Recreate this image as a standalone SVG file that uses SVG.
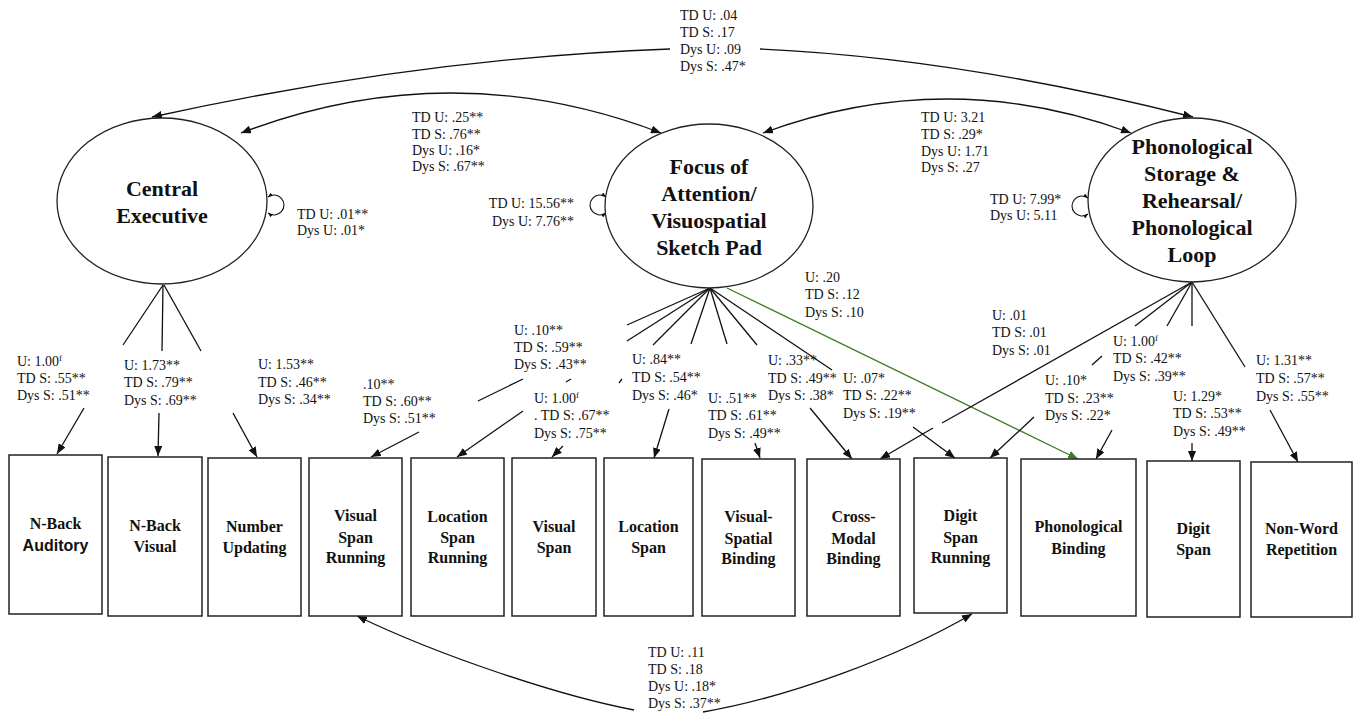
<svg xmlns="http://www.w3.org/2000/svg" width="1360" height="713" viewBox="0 0 1360 713">
  <style>
    .lbl { font-family: "Liberation Serif", "Times New Roman", serif; font-size: 14px; fill: #111; }
    .box { fill: #fff; stroke: #222; stroke-width: 1.5; }
    .btxt { font-family: "Liberation Serif", "Times New Roman", serif; font-size: 16px; font-weight: bold; fill: #111; text-anchor: middle; }
    .bsans { font-family: "Liberation Sans", Arial, sans-serif; font-size: 16px; font-weight: bold; }
    .lat { fill: #fff; stroke: #222; stroke-width: 1.3; }
    .ltxt { font-family: "Liberation Serif", "Times New Roman", serif; font-size: 22px; font-weight: bold; fill: #111; text-anchor: middle; }
    .ln { fill: none; stroke: #111; stroke-width: 1.3; }
    .arr { fill: none; stroke: #111; stroke-width: 1.3; marker-end: url(#ah); }
    .cov { fill: none; stroke: #111; stroke-width: 1.3; marker-start: url(#ah); marker-end: url(#ah); }
    .loop { fill: none; stroke: #111; stroke-width: 1.1; marker-start: url(#sm); marker-end: url(#sm); }
    .sup { font-size: 9px; }
  </style>
  <defs>
    <marker id="ah" viewBox="0 0 10 8" refX="10" refY="4" markerWidth="10" markerHeight="8" markerUnits="userSpaceOnUse" orient="auto-start-reverse">
      <path d="M0,0 L10,4 L0,8 z" fill="#111"/>
    </marker>
    <marker id="ahg" viewBox="0 0 10 8" refX="10" refY="4" markerWidth="10" markerHeight="8" markerUnits="userSpaceOnUse" orient="auto">
      <path d="M0,0 L10,4 L0,8 z" fill="#3f7a24"/>
    </marker>
    <marker id="sm" viewBox="0 0 6 5" refX="6" refY="2.5" markerWidth="5" markerHeight="4" markerUnits="userSpaceOnUse" orient="auto-start-reverse">
      <path d="M0,0 L6,2.5 L0,5 z" fill="#111"/>
    </marker>
  </defs>

  <!-- connectors -->
  <g id="connectors">
    <!-- covariances between latent factors -->
    <path class="ln" d="M670,49 Q420,58 152,117" marker-end="url(#ah)"/>
    <path class="ln" d="M760,49 Q960,58 1193,117" marker-end="url(#ah)"/>
    <path class="cov" d="M241,133 Q451,53 661,133"/>
    <path class="cov" d="M763,133 Q947,65 1131,133"/>

    <!-- residual variances -->
    <path class="loop" d="M268,197 A10,10 0 1,1 268,213"/>
    <path class="loop" d="M606,197 A10,10 0 1,0 606,213"/>
    <path class="loop" d="M1088,198 A10,10 0 1,0 1088,214"/>

    <!-- Central Executive loadings -->
    <path class="ln" d="M163,285 L123,345"/>
    <path class="ln" d="M163,285 L162,351"/>
    <path class="ln" d="M164,285 L201,351"/>
    <path class="arr" d="M84,408 L57,454"/>
    <path class="arr" d="M159,413 L158,456"/>
    <path class="arr" d="M233,413 L257,457"/>

    <!-- Focus of Attention loadings -->
    <path class="ln" d="M710,288 L627,325"/>
    <path class="ln" d="M523,379 L478,401"/>
    <path class="arr" d="M419,432 L371,457"/>

    <path class="ln" d="M710,288 L627,341"/>
    <path class="ln" d="M571,379 L566,382"/>
    <path class="arr" d="M523,411 L457,457"/>

    <path class="ln" d="M710,288 L653,345"/>
    <path class="ln" d="M622,379 L619,383"/>
    <path class="arr" d="M563,446 L552,457"/>

    <path class="ln" d="M710,288 L691,344"/>
    <path class="arr" d="M669,409 L654,458"/>

    <path class="ln" d="M710,288 L727,344"/>
    <path class="arr" d="M755,443 L760,458"/>

    <path class="ln" d="M710,288 L757,345"/>
    <path class="arr" d="M810,408 L852,459"/>

    <path class="ln" d="M710,288 L832,370"/>
    <path class="arr" d="M913,427 L955,458"/>

    <path d="M727,288 L1078,459" fill="none" stroke="#3f7a24" stroke-width="1.3" marker-end="url(#ahg)"/>

    <!-- Phonological Loop loadings -->
    <path class="ln" d="M1192,282 L942,423"/>
    <path class="arr" d="M933,428 L880,459"/>

    <path class="ln" d="M1192,282 L1135,326"/>
    <path class="ln" d="M1102,356 L1092,365"/>
    <path class="arr" d="M1034,417 L990,458"/>

    <path class="ln" d="M1192,282 L1167,326"/>
    <path class="arr" d="M1112,430 L1096,459"/>

    <path class="ln" d="M1192,282 L1192,326"/>
    <path class="arr" d="M1192,443 L1192,461"/>

    <path class="ln" d="M1192,282 L1245,367"/>
    <path class="arr" d="M1270,410 L1298,462"/>

    <!-- correlated residual between running span tasks -->
    <path class="ln" d="M634,710 C560,696 440,656 357,616" marker-end="url(#ah)"/>
    <path class="ln" d="M703,712 C790,697 900,656 972,614" marker-end="url(#ah)"/>
  </g>

  <!-- latent factors -->
  <g id="central-executive">
    <ellipse class="lat" cx="162" cy="201" rx="105" ry="83"/>
    <text class="ltxt" x="162" y="196">Central</text>
    <text class="ltxt" x="162" y="223">Executive</text>
  </g>
  <g id="focus-of-attention">
    <ellipse class="lat" cx="709" cy="206" rx="104" ry="82"/>
    <text class="ltxt" x="709" y="174">Focus of</text>
    <text class="ltxt" x="709" y="201">Attention/</text>
    <text class="ltxt" x="709" y="228">Visuospatial</text>
    <text class="ltxt" x="709" y="255">Sketch Pad</text>
  </g>
  <g id="phonological-loop">
    <ellipse class="lat" cx="1192" cy="200" rx="104" ry="82"/>
    <text class="ltxt" x="1192" y="154">Phonological</text>
    <text class="ltxt" x="1192" y="181">Storage &amp;</text>
    <text class="ltxt" x="1192" y="208">Rehearsal/</text>
    <text class="ltxt" x="1192" y="235">Phonological</text>
    <text class="ltxt" x="1192" y="262">Loop</text>
  </g>

  <!-- observed measures -->
  <g id="n-back-auditory">
    <rect class="box" x="9" y="455" width="93" height="159"/>
    <text class="btxt" x="55.5" y="529">N-Back</text>
    <text class="btxt bsans" x="55.5" y="551">Auditory</text>
  </g>
  <g id="n-back-visual">
    <rect class="box" x="108" y="457" width="94" height="159"/>
    <text class="btxt" x="155" y="531">N-Back</text>
    <text class="btxt" x="155" y="552">Visual</text>
  </g>
  <g id="number-updating">
    <rect class="box" x="208" y="458" width="93" height="158"/>
    <text class="btxt" x="254.5" y="532">Number</text>
    <text class="btxt" x="254.5" y="553">Updating</text>
  </g>
  <g id="visual-span-running">
    <rect class="box" x="309" y="458" width="93" height="158"/>
    <text class="btxt" x="355.5" y="521">Visual</text>
    <text class="btxt" x="355.5" y="543">Span</text>
    <text class="btxt" x="355.5" y="563">Running</text>
  </g>
  <g id="location-span-running">
    <rect class="box" x="411" y="458" width="93" height="158"/>
    <text class="btxt" x="457.5" y="522">Location</text>
    <text class="btxt" x="457.5" y="543">Span</text>
    <text class="btxt" x="457.5" y="563">Running</text>
  </g>
  <g id="visual-span">
    <rect class="box" x="512" y="458" width="84" height="158"/>
    <text class="btxt" x="554" y="532">Visual</text>
    <text class="btxt" x="554" y="553">Span</text>
  </g>
  <g id="location-span">
    <rect class="box" x="604" y="458" width="89" height="158"/>
    <text class="btxt" x="648.5" y="532">Location</text>
    <text class="btxt" x="648.5" y="553">Span</text>
  </g>
  <g id="visual-spatial-binding">
    <rect class="box" x="702" y="459" width="93" height="157"/>
    <text class="btxt" x="748.5" y="522">Visual-</text>
    <text class="btxt" x="748.5" y="544">Spatial</text>
    <text class="btxt" x="748.5" y="564">Binding</text>
  </g>
  <g id="cross-modal-binding">
    <rect class="box" x="807" y="459" width="93" height="157"/>
    <text class="btxt" x="853.5" y="522">Cross-</text>
    <text class="btxt" x="853.5" y="544">Modal</text>
    <text class="btxt" x="853.5" y="564">Binding</text>
  </g>
  <g id="digit-span-running">
    <rect class="box" x="914" y="458" width="93" height="155"/>
    <text class="btxt" x="960.5" y="521">Digit</text>
    <text class="btxt" x="960.5" y="543">Span</text>
    <text class="btxt" x="960.5" y="563">Running</text>
  </g>
  <g id="phonological-binding">
    <rect class="box" x="1021" y="459" width="115" height="157"/>
    <text class="btxt" x="1078.5" y="532">Phonological</text>
    <text class="btxt" x="1078.5" y="554">Binding</text>
  </g>
  <g id="digit-span">
    <rect class="box" x="1147" y="461" width="93" height="156"/>
    <text class="btxt" x="1193.5" y="534">Digit</text>
    <text class="btxt" x="1193.5" y="555">Span</text>
  </g>
  <g id="non-word-repetition">
    <rect class="box" x="1251" y="462" width="101" height="155"/>
    <text class="btxt" x="1301.5" y="534">Non-Word</text>
    <text class="btxt" x="1301.5" y="555">Repetition</text>
  </g>

  <!-- parameter estimates -->
  <g id="estimates">
    <text class="lbl" x="680" y="20">TD U: .04</text>
    <text class="lbl" x="680" y="37">TD S: .17</text>
    <text class="lbl" x="680" y="54">Dys U: .09</text>
    <text class="lbl" x="680" y="71">Dys S: .47*</text>

    <text class="lbl" x="412" y="122">TD U: .25**</text>
    <text class="lbl" x="412" y="139">TD S: .76**</text>
    <text class="lbl" x="412" y="155">Dys U: .16*</text>
    <text class="lbl" x="412" y="171">Dys S: .67**</text>

    <text class="lbl" x="921" y="122">TD U: 3.21</text>
    <text class="lbl" x="921" y="139">TD S: .29*</text>
    <text class="lbl" x="921" y="156">Dys U: 1.71</text>
    <text class="lbl" x="921" y="172">Dys S: .27</text>

    <text class="lbl" x="297" y="219">TD U: .01**</text>
    <text class="lbl" x="297" y="235">Dys U: .01*</text>

    <text class="lbl" x="574" y="208" text-anchor="end">TD U: 15.56**</text>
    <text class="lbl" x="574" y="226" text-anchor="end">Dys U: 7.76**</text>

    <text class="lbl" x="990" y="204">TD U: 7.99*</text>
    <text class="lbl" x="990" y="220">Dys U: 5.11</text>

    <text class="lbl" x="17" y="366">U: 1.00<tspan class="sup" dy="-5">f</tspan></text>
    <text class="lbl" x="17" y="383">TD S: .55**</text>
    <text class="lbl" x="17" y="400">Dys S: .51**</text>

    <text class="lbl" x="124" y="370">U: 1.73**</text>
    <text class="lbl" x="124" y="387">TD S: .79**</text>
    <text class="lbl" x="124" y="405">Dys S: .69**</text>

    <text class="lbl" x="258" y="369">U: 1.53**</text>
    <text class="lbl" x="258" y="387">TD S: .46**</text>
    <text class="lbl" x="258" y="404">Dys S: .34**</text>

    <text class="lbl" x="363" y="389">.10**</text>
    <text class="lbl" x="363" y="406">TD S: .60**</text>
    <text class="lbl" x="363" y="423">Dys S: .51**</text>

    <text class="lbl" x="514" y="335">U: .10**</text>
    <text class="lbl" x="514" y="352">TD S: .59**</text>
    <text class="lbl" x="514" y="369">Dys S: .43**</text>

    <text class="lbl" x="534" y="403">U: 1.00<tspan class="sup" dy="-5">f</tspan></text>
    <text class="lbl" x="534" y="420">. TD S: .67**</text>
    <text class="lbl" x="534" y="438">Dys S: .75**</text>

    <text class="lbl" x="632" y="364">U: .84**</text>
    <text class="lbl" x="632" y="382">TD S: .54**</text>
    <text class="lbl" x="632" y="400">Dys S: .46*</text>

    <text class="lbl" x="708" y="403">U: .51**</text>
    <text class="lbl" x="708" y="420">TD S: .61**</text>
    <text class="lbl" x="708" y="438">Dys S: .49**</text>

    <text class="lbl" x="768" y="365">U: .33**</text>
    <text class="lbl" x="768" y="383">TD S: .49**</text>
    <text class="lbl" x="768" y="400">Dys S: .38*</text>

    <text class="lbl" x="843" y="383">U: .07*</text>
    <text class="lbl" x="843" y="400">TD S: .22**</text>
    <text class="lbl" x="843" y="418">Dys S: .19**</text>

    <text class="lbl" x="805" y="282">U: .20</text>
    <text class="lbl" x="805" y="299">TD S: .12</text>
    <text class="lbl" x="805" y="317">Dys S: .10</text>

    <text class="lbl" x="992" y="320">U: .01</text>
    <text class="lbl" x="992" y="337">TD S: .01</text>
    <text class="lbl" x="992" y="355">Dys S: .01</text>

    <text class="lbl" x="1113" y="346">U: 1.00<tspan class="sup" dy="-5">f</tspan></text>
    <text class="lbl" x="1113" y="363">TD S: .42**</text>
    <text class="lbl" x="1113" y="381">Dys S: .39**</text>

    <text class="lbl" x="1045" y="385">U: .10*</text>
    <text class="lbl" x="1045" y="403">TD S: .23**</text>
    <text class="lbl" x="1045" y="420">Dys S: .22*</text>

    <text class="lbl" x="1173" y="401">U: 1.29*</text>
    <text class="lbl" x="1173" y="418">TD S: .53**</text>
    <text class="lbl" x="1173" y="436">Dys S: .49**</text>

    <text class="lbl" x="1256" y="365">U: 1.31**</text>
    <text class="lbl" x="1256" y="383">TD S: .57**</text>
    <text class="lbl" x="1256" y="401">Dys S: .55**</text>

    <text class="lbl" x="648" y="657">TD U: .11</text>
    <text class="lbl" x="648" y="674">TD S: .18</text>
    <text class="lbl" x="648" y="691">Dys U: .18*</text>
    <text class="lbl" x="648" y="708">Dys S: .37**</text>
  </g>
</svg>
